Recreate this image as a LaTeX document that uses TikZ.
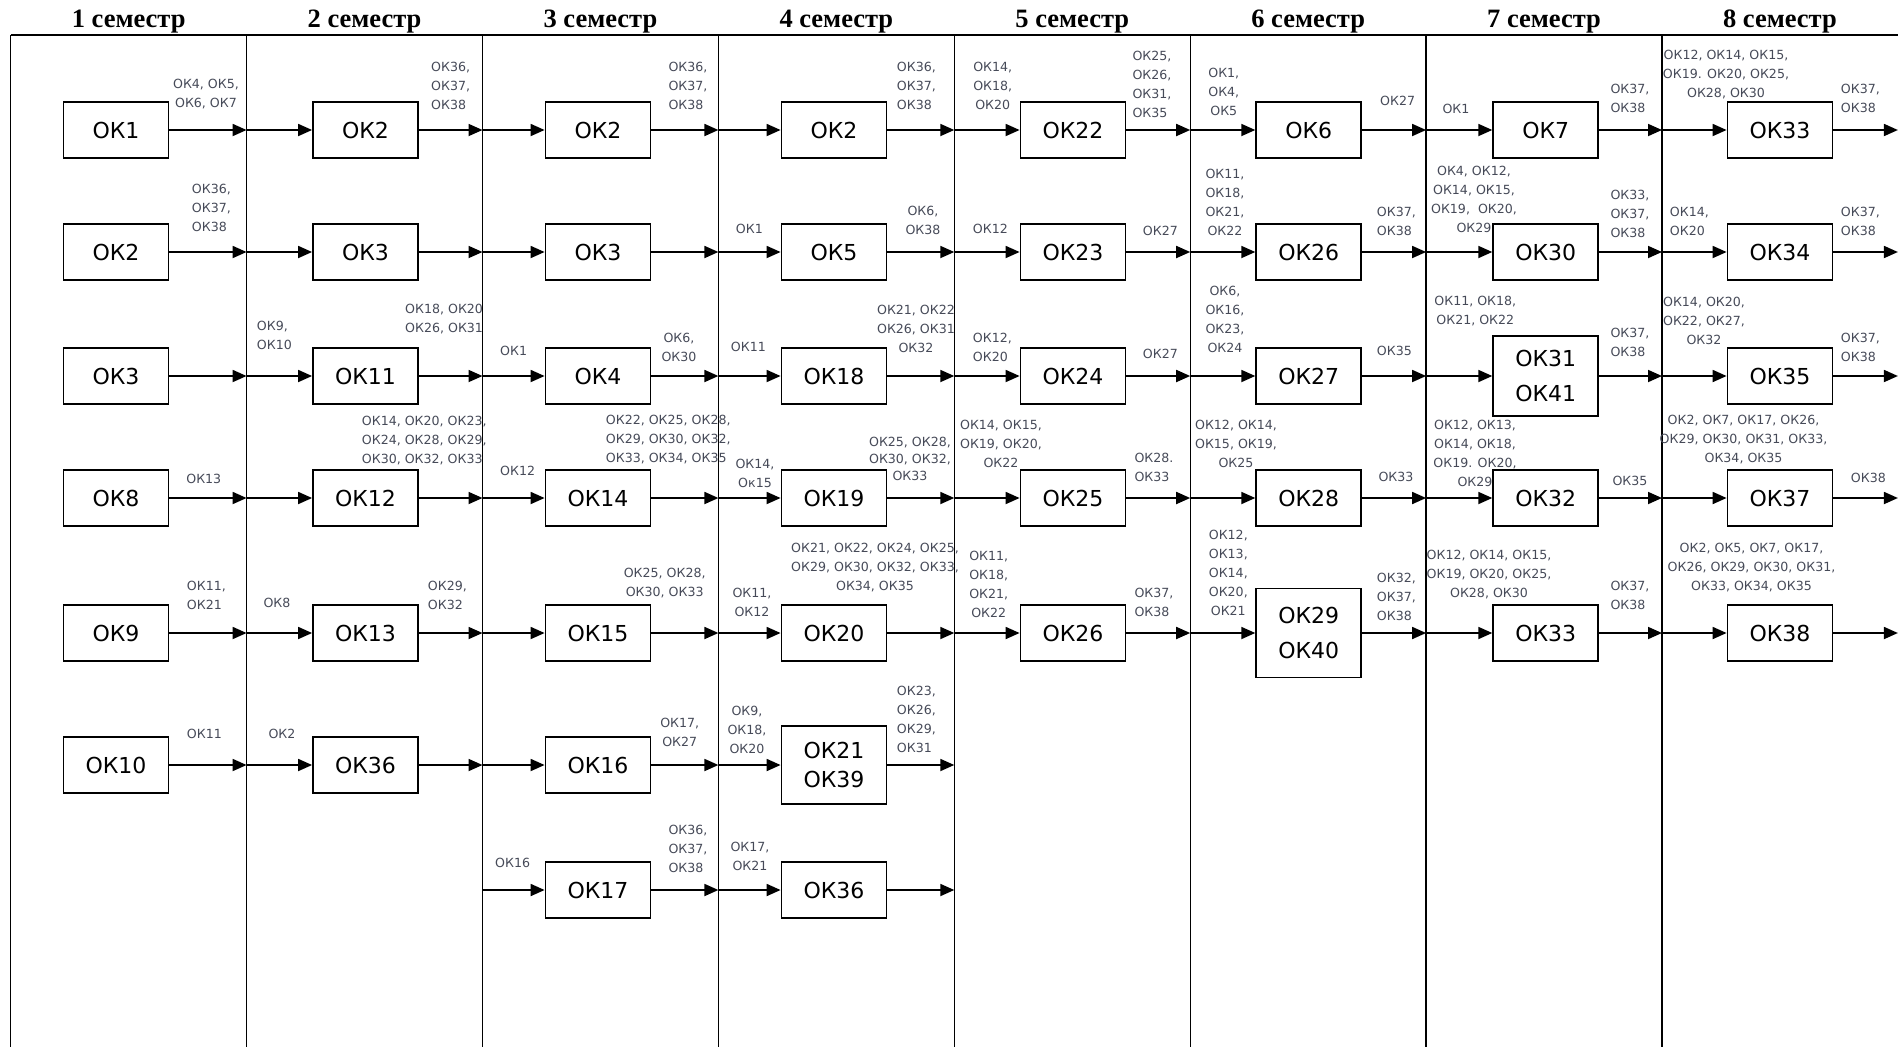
\documentclass[tikz,border=0pt]{standalone}
\usepackage{fontspec}
\setmainfont{DejaVu Sans}
\newfontfamily\semfont{Liberation Serif}
\usetikzlibrary{arrows.meta}
\definecolor{lblgray}{RGB}{70,74,88}

\tikzset{
  okbox/.style={draw, line width=1.8pt, minimum width=105pt, minimum height=56pt,
    inner sep=0pt, align=center, font=\fontsize{22}{35}\selectfont},
  flow/.style={line width=1.8pt, -{Triangle[length=14pt,width=12pt]}},
  oklab/.style={inner sep=0pt, text=lblgray, font=\fontsize{12.6}{19}\selectfont},
  labl/.style={oklab, align=left, anchor=west},
  labc/.style={oklab, align=center},
  semhead/.style={font=\semfont\bfseries\fontsize{26.5}{30}\selectfont}
}

\begin{document}
\begin{tikzpicture}[x=1pt,y=-1pt]
\useasboundingbox (0,0) rectangle (1898,1047);

% Grid of semesters
\def\xo{10.7}
\def\colw{235.9}
\draw[line width=1.4pt] (\xo,35) -- (1898,35);
\foreach \i in {1,...,8} {
    \pgfmathsetmacro{\x}{\xo+(\i-1)*\colw}
    \draw[line width=1.4pt] (\x,35) -- (\x,1047);
    \node[semhead] (h\i) at ({\x+\colw/2},22) {\i\ семестр};
}

% Points where the rows cross the column lines
\foreach \i in {2,...,9} {
    \foreach \r/\y in {1/130,2/252,3/376,4/498,5/633,6/765,7/890} {
        \coordinate (l\i-\r) at ({\xo+(\i-1)*\colw},\y);
    }
}

% 1 semester
\node[okbox] (b1-1) at (116,130) {ОК1};
\node[okbox] (b1-2) at (116,252) {ОК2};
\node[okbox] (b1-3) at (116,376) {ОК3};
\node[okbox] (b1-4) at (116,498) {ОК8};
\node[okbox] (b1-5) at (116,633) {ОК9};
\node[okbox] (b1-6) at (116,765) {ОК10};

% 2 semester
\node[okbox] (b2-1) at (365.5,130) {ОК2};
\node[okbox] (b2-2) at (365.5,252) {ОК3};
\node[okbox] (b2-3) at (365.5,376) {ОК11};
\node[okbox] (b2-4) at (365.5,498) {ОК12};
\node[okbox] (b2-5) at (365.5,633) {ОК13};
\node[okbox] (b2-6) at (365.5,765) {ОК36};

% 3 semester
\node[okbox] (b3-1) at (598,130) {ОК2};
\node[okbox] (b3-2) at (598,252) {ОК3};
\node[okbox] (b3-3) at (598,376) {ОК4};
\node[okbox] (b3-4) at (598,498) {ОК14};
\node[okbox] (b3-5) at (598,633) {ОК15};
\node[okbox] (b3-6) at (598,765) {ОК16};
\node[okbox] (b3-7) at (598,890) {ОК17};

% 4 semester
\node[okbox] (b4-1) at (834,130) {ОК2};
\node[okbox] (b4-2) at (834,252) {ОК5};
\node[okbox] (b4-3) at (834,376) {ОК18};
\node[okbox] (b4-4) at (834,498) {ОК19};
\node[okbox] (b4-5) at (834,633) {ОК20};
\node[okbox, minimum height=78pt] (b4-6) at (834,765) {ОК21\\[-6pt]ОК39};
\node[okbox] (b4-7) at (834,890) {ОК36};

% 5 semester
\node[okbox] (b5-1) at (1073,130) {ОК22};
\node[okbox] (b5-2) at (1073,252) {ОК23};
\node[okbox] (b5-3) at (1073,376) {ОК24};
\node[okbox] (b5-4) at (1073,498) {ОК25};
\node[okbox] (b5-5) at (1073,633) {ОК26};

% 6 semester
\node[okbox] (b6-1) at (1308.7,130) {ОК6};
\node[okbox] (b6-2) at (1308.7,252) {ОК26};
\node[okbox] (b6-3) at (1308.7,376) {ОК27};
\node[okbox] (b6-4) at (1308.7,498) {ОК28};
\node[okbox, minimum height=89pt] (b6-5) at (1308.7,633) {ОК29\\ОК40};

% 7 semester
\node[okbox] (b7-1) at (1545.7,130) {ОК7};
\node[okbox] (b7-2) at (1545.7,252) {ОК30};
\node[okbox, minimum height=80pt] (b7-3) at (1545.7,376) {ОК31\\ОК41};
\node[okbox] (b7-4) at (1545.7,498) {ОК32};
\node[okbox] (b7-5) at (1545.7,633) {ОК33};

% 8 semester
\node[okbox] (b8-1) at (1780,130) {ОК33};
\node[okbox] (b8-2) at (1780,252) {ОК34};
\node[okbox] (b8-3) at (1780,376) {ОК35};
\node[okbox] (b8-4) at (1780,498) {ОК37};
\node[okbox] (b8-5) at (1780,633) {ОК38};

% Arrows into the boxes
\foreach \c/\r in {2/1,2/2,2/3,2/4,2/5,2/6,3/1,3/2,3/3,3/4,3/5,3/6,3/7,
    4/1,4/2,4/3,4/4,4/5,4/6,4/7,5/1,5/2,5/3,5/4,5/5,6/1,6/2,6/3,6/4,6/5,
    7/1,7/2,7/3,7/4,7/5,8/1,8/2,8/3,8/4,8/5}
    \draw[flow] (l\c-\r) -- (b\c-\r);

% Arrows out of the boxes
\foreach \c/\r in {1/1,1/2,1/3,1/4,1/5,1/6,2/1,2/2,2/3,2/4,2/5,2/6,
    3/1,3/2,3/3,3/4,3/5,3/6,3/7,4/1,4/2,4/3,4/4,4/5,4/6,4/7,
    5/1,5/2,5/3,5/4,5/5,6/1,6/2,6/3,6/4,6/5,7/1,7/2,7/3,7/4,7/5,
    8/1,8/2,8/3,8/4,8/5} {
    \pgfmathtruncatemacro{\n}{\c+1}
    \draw[flow] (b\c-\r) -- (l\n-\r);
}

% Labels, 1 semester
\node[labc] (t1-1o) at (206,94) {ОК4, ОК5,\\ОК6, ОК7};
\node[labl] (t1-2o) at (191.7,207.7) {ОК36,\\ОК37,\\ОК38};
\node[labc] (t1-4o) at (203.8,479) {ОК13};
\node[labl] (t1-5o) at (186.7,595.8) {ОК11,\\ОК21};
\node[labl] (t1-6o) at (186.7,734.3) {ОК11};

% Labels, 2 semester
\node[labl] (t2-1o) at (431,85.6) {ОК36,\\ОК37,\\ОК38};
\node[labl] (t2-3i) at (256.7,335.2) {ОК9,\\ОК10};
\node[labl] (t2-3o) at (405,319.5) {ОК18, ОК20\\ОК26, ОК31};
\node[labl] (t2-4o) at (361.7,440.3) {ОК14, ОК20, ОК23,\\ОК24, ОК28, ОК29,\\ОК30, ОК32, ОК33};
\node[labl] (t2-5i) at (263.3,603.3) {ОК8};
\node[labl] (t2-5o) at (427.7,595.8) {ОК29,\\ОК32};
\node[labl] (t2-6i) at (268.3,734.3) {ОК2};

% Labels, 3 semester
\node[labl] (t3-1o) at (668.3,85.6) {ОК36,\\ОК37,\\ОК38};
\node[labl] (t3-3i) at (500,351) {ОК1};
\node[labc] (t3-3o) at (679,347.8) {ОК6,\\ОК30};
\node[labl] (t3-4i) at (500,471) {ОК12};
\node[labl] (t3-4o) at (605.7,439.3) {ОК22, ОК25, ОК28,\\ОК29, ОК30, ОК32,\\ОК33, ОК34, ОК35};
\node[labc] (t3-5o) at (664.7,583.3) {ОК25, ОК28,\\ОК30, ОК33};
\node[labc] (t3-6o) at (679.7,732.8) {ОК17,\\ОК27};
\node[labl] (t3-7i) at (495,862.7) {ОК16};
\node[labl] (t3-7o) at (668.3,848.7) {ОК36,\\ОК37,\\ОК38};

% Labels, 4 semester
\node[labl] (t4-1o) at (896.7,85.6) {ОК36,\\ОК37,\\ОК38};
\node[labl] (t4-2i) at (735.7,229.3) {ОК1};
\node[labc] (t4-2o) at (923,220) {ОК6,\\ОК38};
\node[labl] (t4-3i) at (730.7,346.7) {ОК11};
\node[labc] (t4-3o) at (916,329) {ОК21, ОК22\\ОК26, ОК31\\ОК32};
\node[labc] (t4-4i) at (755,473.3) {ОК14,\\Ок15};
\node[labc, font=\fontsize{12.6}{17}\selectfont] (t4-4o) at (910,458.8) {ОК25, ОК28,\\ОК30, ОК32,\\ОК33};
\node[labc] (t4-5i) at (752,602.2) {ОК11,\\ОК12};
\node[labc] (t4-5o) at (875,567.3) {ОК21, ОК22, ОК24, ОК25,\\ОК29, ОК30, ОК32, ОК33,\\ОК34, ОК35};
\node[labc] (t4-6i) at (747,730.2) {ОК9,\\ОК18,\\ОК20};
\node[labl] (t4-6o) at (896.7,719) {ОК23,\\ОК26,\\ОК29,\\ОК31};
\node[labc] (t4-7i) at (750,856.2) {ОК17,\\ОК21};

% Labels, 5 semester
\node[labc] (t5-1i) at (992.7,85.6) {ОК14,\\ОК18,\\ОК20};
\node[labl] (t5-1o) at (1132.3,84.2) {ОК25,\\ОК26,\\ОК31,\\ОК35};
\node[labl] (t5-2i) at (972.7,229.3) {ОК12};
\node[labl] (t5-2o) at (1142.7,230.7) {ОК27};
\node[labl] (t5-3i) at (972.7,347.8) {ОК12,\\ОК20};
\node[labl] (t5-3o) at (1142.7,354) {ОК27};
\node[labc] (t5-4i) at (1001,443.9) {ОК14, ОК15,\\ОК19, ОК20,\\ОК22};
\node[labl] (t5-4o) at (1134.3,467.8) {ОК28.\\ОК33};
\node[labc] (t5-5i) at (988.7,584.4) {ОК11,\\ОК18,\\ОК21,\\ОК22};
\node[labl] (t5-5o) at (1134.3,602) {ОК37,\\ОК38};

% Labels, 6 semester
\node[labc] (t6-1i) at (1223.8,91.9) {ОК1,\\ОК4,\\ОК5};
\node[labl] (t6-1o) at (1380,101) {ОК27};
\node[labc] (t6-2i) at (1225,202.5) {ОК11,\\ОК18,\\ОК21,\\ОК22};
\node[labl] (t6-2o) at (1376.7,221.2) {ОК37,\\ОК38};
\node[labc] (t6-3i) at (1225,319.4) {ОК6,\\ОК16,\\ОК23,\\ОК24};
\node[labl] (t6-3o) at (1376.7,350.7) {ОК35};
\node[labc] (t6-4i) at (1236,443.9) {ОК12, ОК14,\\ОК15, ОК19,\\ОК25};
\node[labl] (t6-4o) at (1378.3,477.3) {ОК33};
\node[labc] (t6-5i) at (1228.3,573) {ОК12,\\ОК13,\\ОК14,\\ОК20,\\ОК21};
\node[labl] (t6-5o) at (1376.7,597.2) {ОК32,\\ОК37,\\ОК38};

% Labels, 7 semester
\node[labl] (t7-1i) at (1442.3,109.3) {ОК1};
\node[labl] (t7-1o) at (1610.3,98.5) {ОК37,\\ОК38};
\node[labc] (t7-2i) at (1474,199.5) {ОК4, ОК12,\\ОК14, ОК15,\\ОК19,\ \ ОК20,\\ОК29};
\node[labl] (t7-2o) at (1610.3,213.6) {ОК33,\\ОК37,\\ОК38};
\node[labc] (t7-3i) at (1475.3,311.5) {ОК11, ОК18,\\ОК21, ОК22};
\node[labl] (t7-3o) at (1610.3,342.8) {ОК37,\\ОК38};
\node[labc] (t7-4i) at (1475,453.4) {ОК12, ОК13,\\ОК14, ОК18,\\ОК19. ОК20,\\ОК29};
\node[labl] (t7-4o) at (1612.3,480.7) {ОК35};
\node[labc] (t7-5i) at (1489,575) {ОК12, ОК14, ОК15,\\ОК19, ОК20, ОК25,\\ОК28, ОК30};
\node[labl] (t7-5o) at (1610.3,595.8) {ОК37,\\ОК38};

% Labels, 8 semester
\node[labc] (t8-1i) at (1726,74.8) {ОК12, ОК14, ОК15,\\ОК19. ОК20, ОК25,\\ОК28, ОК30};
\node[labl] (t8-1o) at (1840.7,98.5) {ОК37,\\ОК38};
\node[labl] (t8-2i) at (1669.7,221.4) {ОК14,\\ОК20};
\node[labl] (t8-2o) at (1840.7,221.4) {ОК37,\\ОК38};
\node[labc] (t8-3i) at (1704,321) {ОК14, ОК20,\\ОК22, ОК27,\\ОК32};
\node[labl] (t8-3o) at (1840.7,347.8) {ОК37,\\ОК38};
\node[labc] (t8-4i) at (1743.5,439.4) {ОК2, ОК7, ОК17, ОК26,\\ОК29, ОК30, ОК31, ОК33,\\ОК34, ОК35};
\node[labl] (t8-4o) at (1850.7,477.7) {ОК38};
\node[labc] (t8-5i) at (1751.5,567.2) {ОК2, ОК5, ОК7, ОК17,\\ОК26, ОК29, ОК30, ОК31,\\ОК33, ОК34, ОК35};

\end{tikzpicture}
\end{document}
